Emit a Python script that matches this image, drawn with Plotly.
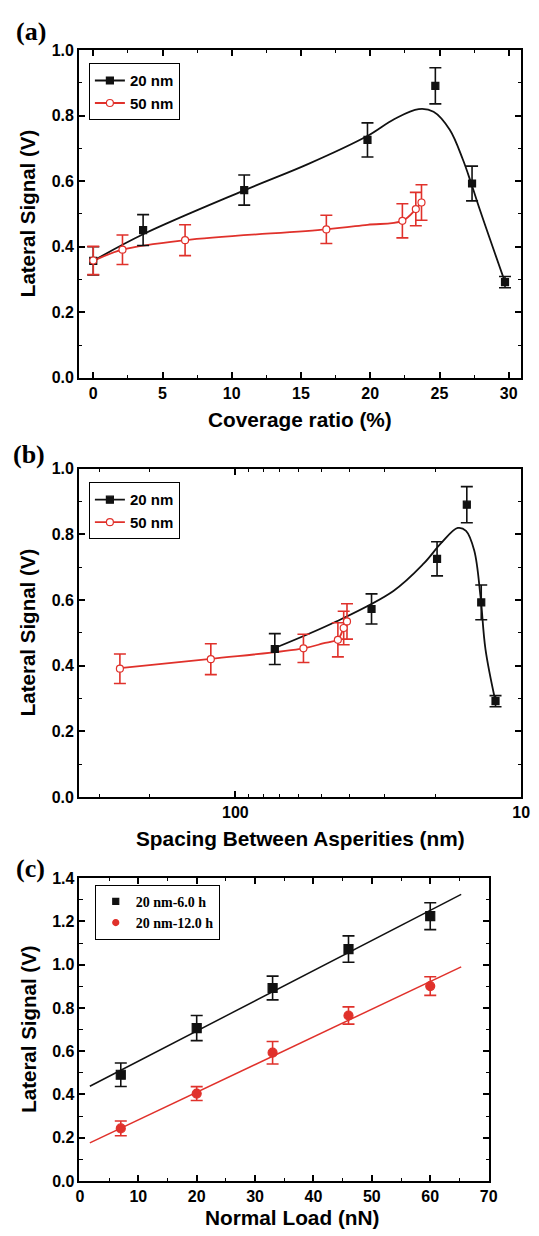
import math
import plotly.graph_objects as go

# ---------------- (a) lateral signal vs coverage ratio ----------------
cov_20 = [0, 3.6, 10.9, 19.8, 24.7, 27.35, 29.73]
sig_20 = [0.357, 0.451, 0.573, 0.726, 0.891, 0.593, 0.292]
err_20 = [0.043, 0.047, 0.046, 0.052, 0.055, 0.053, 0.017]

cov_50 = [0, 2.11, 6.63, 16.83, 22.32, 23.29, 23.7]
sig_50 = [0.358, 0.391, 0.420, 0.453, 0.479, 0.515, 0.535]
err_50 = [0.043, 0.045, 0.047, 0.043, 0.052, 0.051, 0.054]

# smoothed guide curves (control points)
curve_cov_20 = [0, 3.6, 10.9, 15.5, 19.75, 21.75, 23.5, 24.57, 25.74, 26.68, 27.27, 27.97, 29.73]
curve_sig_20 = [0.357, 0.438, 0.572, 0.652, 0.737, 0.790, 0.820, 0.812, 0.757, 0.667, 0.596, 0.506, 0.292]
curve_cov_50 = [0, 2.11, 6.63, 16.83, 19.8, 22.32, 23.29, 23.7]
curve_sig_50 = [0.357, 0.391, 0.420, 0.453, 0.467, 0.479, 0.515, 0.535]

# ---------------- (b) lateral signal vs spacing ----------------
spacing_20 = [72.8, 33.4, 19.7, 15.5, 13.8, 12.3]
spacing_50 = [253.6, 121.9, 57.8, 43.8, 41.8, 40.7]
sig_b20 = sig_20[1:]
err_b20 = err_20[1:]
sig_b50 = sig_50[1:]
err_b50 = err_50[1:]

curve_sp_20 = [72.8, 44.6, 28.0, 21.96, 19.0, 16.67, 15.6, 14.6, 13.88, 13.34, 12.3]
curve_sigb_20 = [0.454, 0.534, 0.628, 0.711, 0.775, 0.820, 0.811, 0.751, 0.611, 0.451, 0.291]
curve_sp_50 = [253.6, 121.9, 57.8, 49.4, 43.8, 41.8, 40.7]
curve_sigb_50 = [0.393, 0.421, 0.453, 0.468, 0.481, 0.516, 0.535]

# ---------------- (c) lateral signal vs normal load ----------------
load = [7, 20, 33, 46, 60]
sig_6h = [0.491, 0.707, 0.892, 1.072, 1.224]
err_6h = [0.054, 0.058, 0.055, 0.061, 0.062]
sig_12h = [0.243, 0.404, 0.593, 0.765, 0.901]
err_12h = [0.034, 0.032, 0.052, 0.040, 0.043]

fit_load = [1.7, 65.3]
fit_6h = [0.438, 1.325]
fit_12h = [0.176, 0.990]

BLACK = "#111111"
RED = "#e0312b"
SANS = "Liberation Sans, Arial, sans-serif"
SERIF = "Liberation Serif, Times New Roman, serif"

W, H = 539, 1236


def px(v):
    return v / W


def py(v):
    return 1 - v / H


fig = go.Figure()


def curve(x, y, color, xa, ya):
    fig.add_trace(go.Scatter(x=x, y=y, mode="lines", xaxis=xa, yaxis=ya,
                             line=dict(color=color, width=1.8, shape="spline", smoothing=1.0),
                             showlegend=False, hoverinfo="skip"))


def points(x, y, e, color, symbol, size, fill, xa, ya):
    fig.add_trace(go.Scatter(x=x, y=y, mode="markers", xaxis=xa, yaxis=ya,
                             error_y=dict(type="data", array=e, visible=True,
                                          color=color, thickness=1.6, width=6),
                             marker=dict(symbol=symbol, size=size, color=fill,
                                         line=dict(color=color, width=1.2)),
                             showlegend=False))


def legend_entry(name, color, symbol, size, fill, mode, legend, xa, ya):
    fig.add_trace(go.Scatter(x=[None], y=[None], mode=mode, name=name, xaxis=xa, yaxis=ya,
                             legend=legend,
                             line=dict(color=color, width=1.8),
                             marker=dict(symbol=symbol, size=size, color=fill,
                                         line=dict(color=color, width=1.2))))


# panel (a)
curve(curve_cov_20, curve_sig_20, BLACK, "x", "y")
curve(curve_cov_50, curve_sig_50, RED, "x", "y")
points(cov_20, sig_20, err_20, BLACK, "square", 7, BLACK, "x", "y")
points(cov_50, sig_50, err_50, RED, "circle", 7, "white", "x", "y")
legend_entry("20 nm", BLACK, "square", 7, BLACK, "lines+markers", "legend", "x", "y")
legend_entry("50 nm", RED, "circle", 7, "white", "lines+markers", "legend", "x", "y")

# panel (b)
curve(curve_sp_20, curve_sigb_20, BLACK, "x2", "y2")
curve(curve_sp_50, curve_sigb_50, RED, "x2", "y2")
points(spacing_20, sig_b20, err_b20, BLACK, "square", 7, BLACK, "x2", "y2")
points(spacing_50, sig_b50, err_b50, RED, "circle", 7, "white", "x2", "y2")
legend_entry("20 nm", BLACK, "square", 7, BLACK, "lines+markers", "legend2", "x2", "y2")
legend_entry("50 nm", RED, "circle", 7, "white", "lines+markers", "legend2", "x2", "y2")

# panel (c)
fig.add_trace(go.Scatter(x=fit_load, y=fit_6h, mode="lines", xaxis="x3", yaxis="y3",
                         line=dict(color=BLACK, width=1.5), showlegend=False))
fig.add_trace(go.Scatter(x=fit_load, y=fit_12h, mode="lines", xaxis="x3", yaxis="y3",
                         line=dict(color=RED, width=1.5), showlegend=False))
points(load, sig_6h, err_6h, BLACK, "square", 9, BLACK, "x3", "y3")
points(load, sig_12h, err_12h, RED, "circle", 9, RED, "x3", "y3")
legend_entry("20 nm-6.0 h", BLACK, "square", 6, BLACK, "markers", "legend3", "x3", "y3")
legend_entry("20 nm-12.0 h", RED, "circle", 6, RED, "markers", "legend3", "x3", "y3")

tickfont = dict(family=SANS, size=16, color="black", weight="bold")


def axis(**kw):
    base = dict(showline=True, linecolor="black", linewidth=1.5, mirror="ticks",
                ticks="inside", ticklen=6, tickwidth=1.5, tickcolor="black",
                showgrid=False, zeroline=False, tickfont=tickfont,
                minor=dict(ticks="inside", ticklen=3.5, tickwidth=1.2,
                           tickcolor="black", showgrid=False))
    for k, v in kw.items():
        if k == "minor":
            base["minor"].update(v)
        else:
            base[k] = v
    return base


xa_dom = [px(76.7), px(530)]
xc_dom = [px(77.2), px(497.2)]

layout_axes = dict(
    xaxis=axis(domain=xa_dom, anchor="y", range=[-1.04, 30.9], tick0=0, dtick=5,
               minor=dict(dtick=2.5)),
    yaxis=axis(domain=[py(375), py(42.7)], anchor="x", range=[0, 1.0], dtick=0.2,
               tickformat=".1f", minor=dict(dtick=0.1)),
    xaxis2=axis(domain=xa_dom, anchor="y2", type="log",
                range=[math.log10(353), 1.0], tickvals=[10, 100], ticktext=["10", "100"],
                minor=dict(tickvals=[20, 30, 40, 50, 60, 70, 80, 90, 200, 300])),
    yaxis2=axis(domain=[py(800), py(467.3)], anchor="x2", range=[0, 1.0], dtick=0.2,
                tickformat=".1f", minor=dict(dtick=0.1)),
    xaxis3=axis(domain=xc_dom, anchor="y3", range=[-0.1, 70.1], tick0=0, dtick=10,
                minor=dict(dtick=5)),
    yaxis3=axis(domain=[py(1189.3), py(882.3)], anchor="x3", range=[0, 1.4], dtick=0.2,
                tickformat=".1f", minor=dict(dtick=0.1)),
)

legend_sans = dict(font=dict(family=SANS, size=15, color="black", weight="bold"),
                   bordercolor="black", borderwidth=1, bgcolor="white",
                   xanchor="left", yanchor="top", itemwidth=30, tracegroupgap=0)

annotations = []


def text(x, y, s, size, family=SANS, angle=0):
    annotations.append(dict(x=px(x), y=py(y), xref="paper", yref="paper", text=s,
                            showarrow=False, xanchor="center", yanchor="middle",
                            textangle=angle,
                            font=dict(family=family, size=size, color="black", weight="bold")))


text(27.6, 24, "(a)", 26, SERIF)
text(26.0, 453, "(b)", 26, SERIF)
text(27.6, 872, "(c)", 26, SERIF)
text(303.4, 417.3, "Coverage ratio (%)", 20.8)
text(303.4, 841.7, "Spacing Between Asperities (nm)", 20.8)
text(295.5, 1226, "Normal Load (nN)", 20.8)
for yc in (208.8, 633.7, 1035.8):
    text(24.8, yc, "Lateral Signal (V)", 20.5, angle=-90)

fig.update_layout(
    width=W, height=H, autosize=False,
    margin=dict(l=0, r=0, t=0, b=0),
    paper_bgcolor="white", plot_bgcolor="white",
    showlegend=True,
    legend=dict(legend_sans, x=px(87), y=py(56)),
    legend2=dict(legend_sans, x=px(87), y=py(481)),
    legend3=dict(font=dict(family=SERIF, size=14, color="black", weight="bold"),
                 bordercolor="black", borderwidth=1, bgcolor="white",
                 xanchor="left", yanchor="top", itemwidth=30,
                 x=px(93), y=py(889)),
    annotations=annotations,
    **layout_axes,
)

fig.write_html("out.html")
